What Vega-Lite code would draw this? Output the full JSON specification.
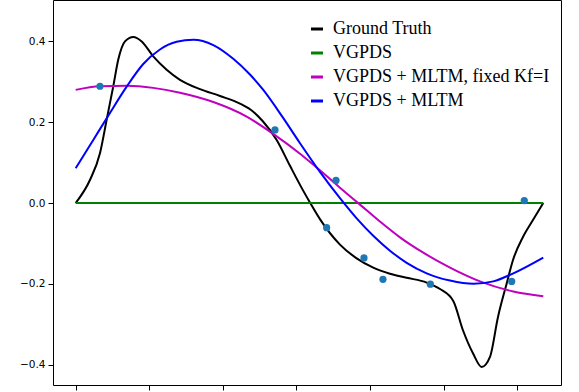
{
  "$schema": "https://vega.github.io/schema/vega-lite/v6.json",
  "width": 508,
  "height": 385,
  "autosize": "none",
  "padding": {"left": 53, "top": 0, "right": 18, "bottom": 7},
  "background": "white",
  "config": {
    "view": {"stroke": "#000000", "strokeWidth": 1},
    "axis": {"grid": false, "domain": false, "tickColor": "#000000", "tickSize": 5, "labelColor": "#000000", "labelFont": "DejaVu Sans", "labelFontSize": 10.5, "labelPadding": 3, "title": null}
  },
  "datasets": {
    "curves": [
      {"series": "Ground Truth", "x": 0, "y": 0},
      {"series": "Ground Truth", "x": 0.194, "y": 0.057},
      {"series": "Ground Truth", "x": 0.33, "y": 0.123},
      {"series": "Ground Truth", "x": 0.421, "y": 0.206},
      {"series": "Ground Truth", "x": 0.511, "y": 0.289},
      {"series": "Ground Truth", "x": 0.579, "y": 0.355},
      {"series": "Ground Truth", "x": 0.67, "y": 0.4},
      {"series": "Ground Truth", "x": 0.783, "y": 0.411},
      {"series": "Ground Truth", "x": 0.897, "y": 0.4},
      {"series": "Ground Truth", "x": 1.054, "y": 0.363},
      {"series": "Ground Truth", "x": 1.236, "y": 0.33},
      {"series": "Ground Truth", "x": 1.417, "y": 0.305},
      {"series": "Ground Truth", "x": 1.689, "y": 0.282},
      {"series": "Ground Truth", "x": 1.961, "y": 0.265},
      {"series": "Ground Truth", "x": 2.232, "y": 0.246},
      {"series": "Ground Truth", "x": 2.413, "y": 0.226},
      {"series": "Ground Truth", "x": 2.54, "y": 0.203},
      {"series": "Ground Truth", "x": 2.731, "y": 0.156},
      {"series": "Ground Truth", "x": 2.912, "y": 0.092},
      {"series": "Ground Truth", "x": 3.093, "y": 0.03},
      {"series": "Ground Truth", "x": 3.187, "y": 0.0},
      {"series": "Ground Truth", "x": 3.319, "y": -0.04},
      {"series": "Ground Truth", "x": 3.591, "y": -0.103},
      {"series": "Ground Truth", "x": 3.818, "y": -0.137},
      {"series": "Ground Truth", "x": 4.043, "y": -0.16},
      {"series": "Ground Truth", "x": 4.27, "y": -0.175},
      {"series": "Ground Truth", "x": 4.497, "y": -0.185},
      {"series": "Ground Truth", "x": 4.769, "y": -0.197},
      {"series": "Ground Truth", "x": 4.95, "y": -0.213},
      {"series": "Ground Truth", "x": 5.132, "y": -0.243},
      {"series": "Ground Truth", "x": 5.262, "y": -0.315},
      {"series": "Ground Truth", "x": 5.398, "y": -0.372},
      {"series": "Ground Truth", "x": 5.516, "y": -0.406},
      {"series": "Ground Truth", "x": 5.629, "y": -0.381},
      {"series": "Ground Truth", "x": 5.738, "y": -0.282},
      {"series": "Ground Truth", "x": 5.856, "y": -0.199},
      {"series": "Ground Truth", "x": 5.942, "y": -0.141},
      {"series": "Ground Truth", "x": 6.077, "y": -0.084},
      {"series": "Ground Truth", "x": 6.213, "y": -0.042},
      {"series": "Ground Truth", "x": 6.353, "y": 0},
      {"series": "VGPDS", "x": 0, "y": 0},
      {"series": "VGPDS", "x": 6.353, "y": 0},
      {"series": "VGPDS + MLTM, fixed Kf=I", "x": 0, "y": 0.28},
      {"series": "VGPDS + MLTM, fixed Kf=I", "x": 0.33, "y": 0.289},
      {"series": "VGPDS + MLTM, fixed Kf=I", "x": 0.693, "y": 0.29},
      {"series": "VGPDS + MLTM, fixed Kf=I", "x": 1.054, "y": 0.285},
      {"series": "VGPDS + MLTM, fixed Kf=I", "x": 1.417, "y": 0.273},
      {"series": "VGPDS + MLTM, fixed Kf=I", "x": 1.87, "y": 0.25},
      {"series": "VGPDS + MLTM, fixed Kf=I", "x": 2.323, "y": 0.214},
      {"series": "VGPDS + MLTM, fixed Kf=I", "x": 2.708, "y": 0.168},
      {"series": "VGPDS + MLTM, fixed Kf=I", "x": 3.048, "y": 0.122},
      {"series": "VGPDS + MLTM, fixed Kf=I", "x": 3.319, "y": 0.081},
      {"series": "VGPDS + MLTM, fixed Kf=I", "x": 3.591, "y": 0.038},
      {"series": "VGPDS + MLTM, fixed Kf=I", "x": 3.863, "y": -0.004},
      {"series": "VGPDS + MLTM, fixed Kf=I", "x": 4.134, "y": -0.046},
      {"series": "VGPDS + MLTM, fixed Kf=I", "x": 4.406, "y": -0.085},
      {"series": "VGPDS + MLTM, fixed Kf=I", "x": 4.723, "y": -0.123},
      {"series": "VGPDS + MLTM, fixed Kf=I", "x": 5.086, "y": -0.16},
      {"series": "VGPDS + MLTM, fixed Kf=I", "x": 5.493, "y": -0.194},
      {"series": "VGPDS + MLTM, fixed Kf=I", "x": 5.946, "y": -0.219},
      {"series": "VGPDS + MLTM, fixed Kf=I", "x": 6.353, "y": -0.231},
      {"series": "VGPDS + MLTM", "x": 0, "y": 0.086},
      {"series": "VGPDS + MLTM", "x": 0.239, "y": 0.156},
      {"series": "VGPDS + MLTM", "x": 0.466, "y": 0.223},
      {"series": "VGPDS + MLTM", "x": 0.693, "y": 0.288},
      {"series": "VGPDS + MLTM", "x": 0.918, "y": 0.344},
      {"series": "VGPDS + MLTM", "x": 1.145, "y": 0.38},
      {"series": "VGPDS + MLTM", "x": 1.372, "y": 0.399},
      {"series": "VGPDS + MLTM", "x": 1.598, "y": 0.404},
      {"series": "VGPDS + MLTM", "x": 1.87, "y": 0.391},
      {"series": "VGPDS + MLTM", "x": 2.141, "y": 0.357},
      {"series": "VGPDS + MLTM", "x": 2.368, "y": 0.318},
      {"series": "VGPDS + MLTM", "x": 2.549, "y": 0.28},
      {"series": "VGPDS + MLTM", "x": 2.821, "y": 0.21},
      {"series": "VGPDS + MLTM", "x": 3.048, "y": 0.148},
      {"series": "VGPDS + MLTM", "x": 3.319, "y": 0.077},
      {"series": "VGPDS + MLTM", "x": 3.591, "y": 0.012},
      {"series": "VGPDS + MLTM", "x": 3.818, "y": -0.038},
      {"series": "VGPDS + MLTM", "x": 4.043, "y": -0.081},
      {"series": "VGPDS + MLTM", "x": 4.27, "y": -0.118},
      {"series": "VGPDS + MLTM", "x": 4.497, "y": -0.148},
      {"series": "VGPDS + MLTM", "x": 4.769, "y": -0.174},
      {"series": "VGPDS + MLTM", "x": 5.086, "y": -0.192},
      {"series": "VGPDS + MLTM", "x": 5.403, "y": -0.2},
      {"series": "VGPDS + MLTM", "x": 5.674, "y": -0.194},
      {"series": "VGPDS + MLTM", "x": 5.946, "y": -0.174},
      {"series": "VGPDS + MLTM", "x": 6.353, "y": -0.135}
    ],
    "points": [
      {"x": 0.33, "y": 0.289},
      {"x": 2.708, "y": 0.181},
      {"x": 3.537, "y": 0.056},
      {"x": 3.41, "y": -0.061},
      {"x": 3.917, "y": -0.136},
      {"x": 4.175, "y": -0.189},
      {"x": 4.819, "y": -0.201},
      {"x": 5.924, "y": -0.194},
      {"x": 6.095, "y": 0.006}
    ]
  },
  "layer": [
    {
      "data": {"name": "curves"},
      "mark": {"type": "line", "strokeWidth": 2, "interpolate": "monotone"},
      "encoding": {
        "x": {"field": "x", "type": "quantitative", "scale": {"domain": [-0.308, 6.594], "nice": false, "zero": false}, "axis": {"values": [0, 1, 2, 3, 4, 5, 6], "labels": false}},
        "y": {"field": "y", "type": "quantitative", "scale": {"domain": [-0.4505, 0.5025], "nice": false, "zero": false}, "axis": {"values": [-0.4, -0.2, 0, 0.2, 0.4], "format": ".1f"}},
        "color": {
          "field": "series", "type": "nominal",
          "scale": {"domain": ["Ground Truth", "VGPDS", "VGPDS + MLTM, fixed Kf=I", "VGPDS + MLTM"], "range": ["#000000", "#008000", "#bf00bf", "#0000ff"]},
          "legend": {
            "title": null, "orient": "none", "legendX": 255, "legendY": 20,
            "symbolType": "stroke", "symbolSize": 144, "symbolStrokeWidth": 3,
            "labelFont": "Liberation Serif", "labelFontSize": 18, "labelColor": "#000000",
            "labelOffset": 7, "rowPadding": 6, "padding": 0, "labelLimit": 400
          }
        },
        "order": {"field": "series"}
      }
    },
    {
      "data": {"name": "points"},
      "mark": {"type": "circle", "size": 52, "color": "#1f77b4", "opacity": 1},
      "encoding": {
        "x": {"field": "x", "type": "quantitative"},
        "y": {"field": "y", "type": "quantitative"}
      }
    }
  ]
}
